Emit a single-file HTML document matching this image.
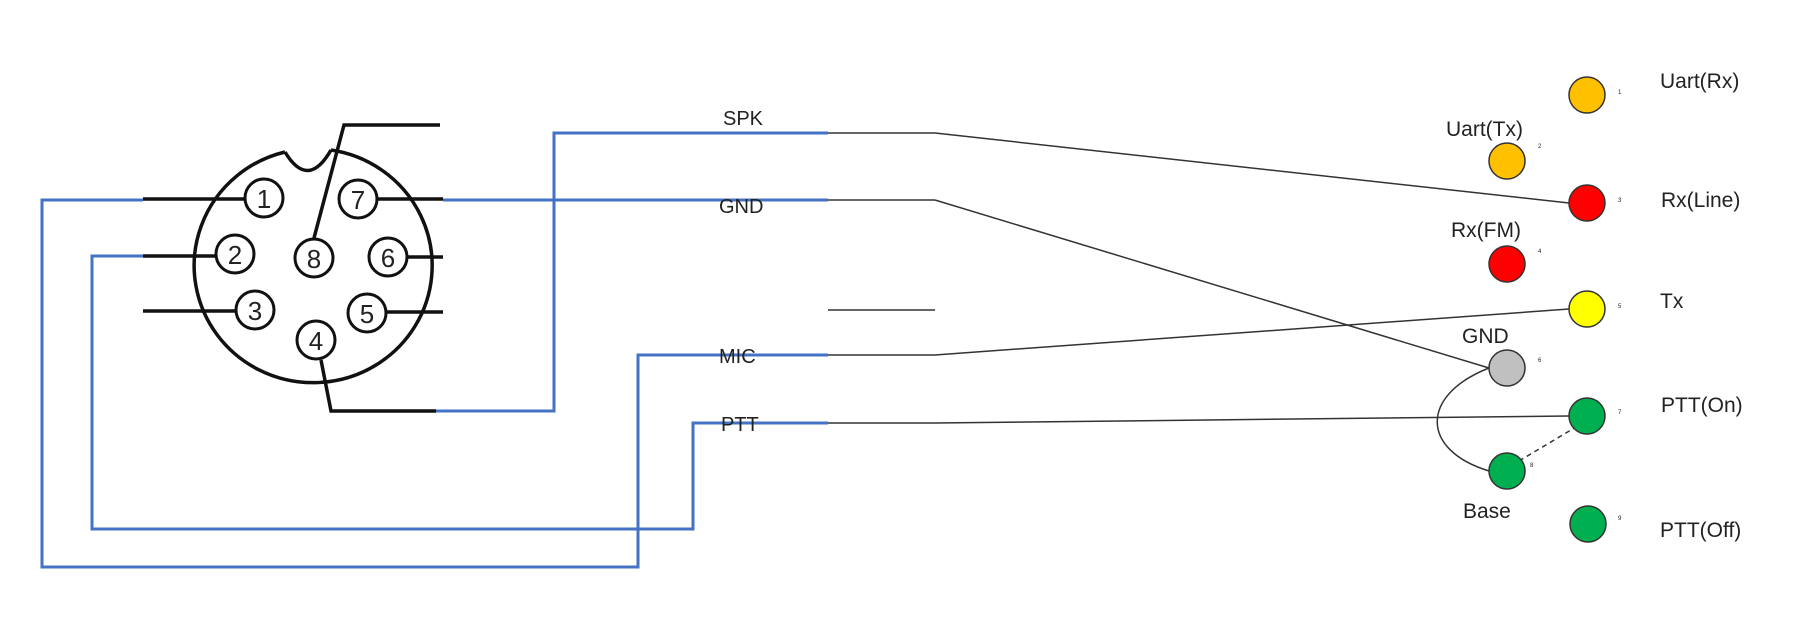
<!DOCTYPE html>
<html><head><style>html,body{margin:0;padding:0;background:#fff}svg{display:block}</style></head>
<body>
<svg width="1816" height="627" xmlns="http://www.w3.org/2000/svg" font-family="'Liberation Sans', sans-serif">
<g fill="none" stroke="#4472C4" stroke-width="3">
<polyline points="143,200 42,200 42,567 638,567 638,355 828,355"/>
<polyline points="143,256 92,256 92,529 693,529 693,423 828,423"/>
<polyline points="443,200 828,200"/>
<polyline points="436,411 554,411 554,133 828,133"/>
</g>
<g fill="none" stroke="#111" stroke-width="3.5">
<path d="M285,152 A119,117 0 1 0 331,150" />
<path d="M285,152 Q308,190 331,150" />
<line x1="143" y1="199" x2="244" y2="199"/>
<line x1="143" y1="256" x2="215" y2="256"/>
<line x1="143" y1="311" x2="235" y2="311"/>
<line x1="378" y1="199" x2="443" y2="199"/>
<line x1="408" y1="257" x2="443" y2="257"/>
<line x1="387" y1="312" x2="443" y2="312"/>
<polyline points="314,238 344,125 440,125"/>
<polyline points="321,360 331,411 436,411"/>
</g>
<g fill="#fff" stroke="#111" stroke-width="3">
<circle cx="264" cy="198" r="19"/><circle cx="235" cy="254" r="19"/><circle cx="255" cy="310" r="19"/>
<circle cx="316" cy="340" r="19"/><circle cx="367" cy="313" r="19"/><circle cx="388" cy="257" r="19"/>
<circle cx="358" cy="199" r="19"/><circle cx="314" cy="258" r="19"/>
</g>
<g fill="#222" font-size="26" text-anchor="middle">
<text x="264" y="208">1</text><text x="235" y="264">2</text><text x="255" y="320">3</text>
<text x="316" y="350">4</text><text x="367" y="323">5</text><text x="388" y="267">6</text>
<text x="358" y="209">7</text><text x="314" y="268">8</text>
</g>
<g fill="none" stroke="#333" stroke-width="1.5">
<line x1="828" y1="133" x2="935" y2="133"/><line x1="935" y1="133" x2="1569" y2="203"/>
<line x1="828" y1="200" x2="935" y2="200"/><line x1="935" y1="200" x2="1489" y2="368"/>
<line x1="828" y1="310" x2="935" y2="310"/>
<line x1="828" y1="355" x2="935" y2="355"/><line x1="935" y1="355" x2="1569" y2="309"/>
<line x1="828" y1="423" x2="935" y2="423"/><line x1="935" y1="423" x2="1569" y2="416"/>
<path d="M1489,368 C1420,395 1420,450 1489,471"/>
<line x1="1519" y1="461" x2="1576" y2="427" stroke-dasharray="5,4"/>
</g>
<g fill="#222" font-size="20">
<text x="723" y="125">SPK</text><text x="719" y="213">GND</text><text x="719" y="363">MIC</text><text x="721" y="431">PTT</text>
</g>
<g stroke="#333" stroke-width="1.5">
<circle cx="1587" cy="95" r="18" fill="#FFC000"/>
<circle cx="1507" cy="161" r="18" fill="#FFC000"/>
<circle cx="1587" cy="203" r="18" fill="#FF0000"/>
<circle cx="1507" cy="264" r="18" fill="#FF0000"/>
<circle cx="1587" cy="309" r="18" fill="#FFFF00"/>
<circle cx="1507" cy="368" r="18" fill="#C0C0C0"/>
<circle cx="1587" cy="416" r="18" fill="#00B050"/>
<circle cx="1507" cy="471" r="18" fill="#00B050"/>
<circle cx="1588" cy="524" r="18" fill="#00B050"/>
</g>
<g fill="#222" font-size="21">
<text x="1660" y="88">Uart(Rx)</text>
<text x="1446" y="136">Uart(Tx)</text>
<text x="1661" y="207">Rx(Line)</text>
<text x="1451" y="237">Rx(FM)</text>
<text x="1660" y="308">Tx</text>
<text x="1462" y="343">GND</text>
<text x="1661" y="412">PTT(On)</text>
<text x="1463" y="518">Base</text>
<text x="1660" y="537">PTT(Off)</text>
</g>
<g fill="#222" font-size="6">
<text x="1618" y="94">1</text><text x="1538" y="148">2</text><text x="1618" y="202">3</text>
<text x="1538" y="253">4</text><text x="1618" y="308">5</text><text x="1538" y="362">6</text>
<text x="1618" y="414">7</text><text x="1530" y="467">8</text><text x="1618" y="520">9</text>
</g>
</svg>
</body></html>
